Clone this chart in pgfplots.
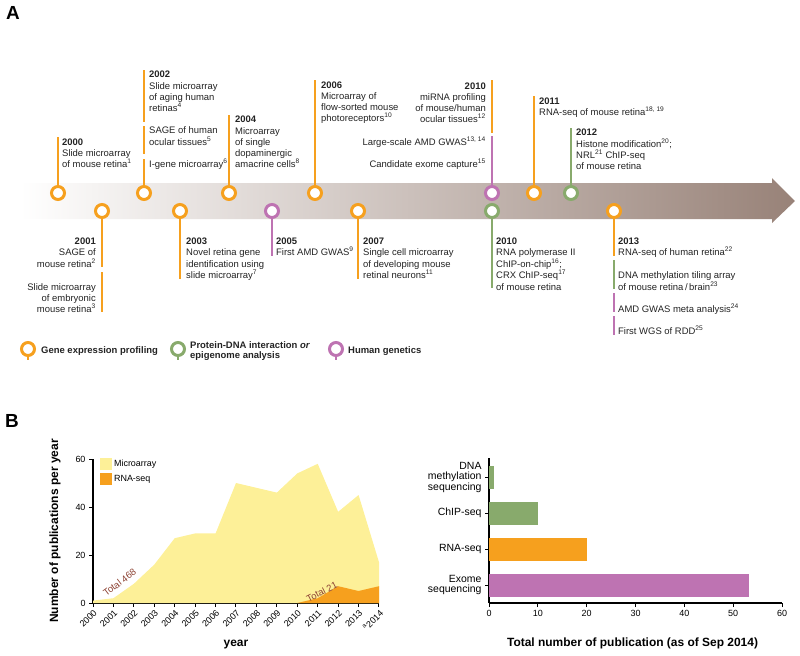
\documentclass[border=0pt]{standalone}
\usepackage{fontspec}
\setmainfont{Liberation Sans}
\usepackage{pgfplots}
\pgfplotsset{compat=1.18}
\definecolor{gorange}{RGB}{246,160,30}
\definecolor{ggreen}{RGB}{136,170,108}
\definecolor{gpurple}{RGB}{190,115,178}
\definecolor{gyellow}{RGB}{253,240,152}
\definecolor{arrowbrown}{RGB}{152,130,120}
\definecolor{totcol}{RGB}{140,65,50}
\definecolor{txt}{RGB}{35,35,35}
\newcommand{\tf}{\fontsize{9.5}{11}\selectfont}
\newcommand{\T}[3]{\node[anchor=base west,inner sep=0pt,font=\tf,text=txt] at (axis cs:#1,#2) {#3};}
\newcommand{\R}[3]{\node[anchor=base east,inner sep=0pt,font=\tf,text=txt] at (axis cs:#1,#2) {#3};}
\newcommand{\sx}[1]{\textsuperscript{#1}}
\begin{document}
\begin{tikzpicture}
\useasboundingbox (0,0) rectangle (800bp,-656bp);
% ---------------- Panel A (pixel coordinates) ----------------
\begin{axis}[at={(0,0)}, anchor=north west, scale only axis, width=800bp, height=656bp,
  xmin=0, xmax=800, ymin=0, ymax=656, y dir=reverse, hide axis, clip=false]
\shade[left color=white, right color=arrowbrown] (axis cs:20,183) -- (axis cs:772,183) -- (axis cs:772,178) -- (axis cs:795,201) -- (axis cs:772,223) -- (axis cs:772,219) -- (axis cs:20,219) -- cycle;
% stems
\pgfplotsset{stem/.style={line width=2.4bp}}
\addplot[stem, gorange] coordinates {(58,137)(58,186)};
\addplot[stem, gorange] coordinates {(144,70)(144,122)};
\addplot[stem, gorange] coordinates {(144,126)(144,154)};
\addplot[stem, gorange] coordinates {(144,159)(144,186)};
\addplot[stem, gorange] coordinates {(229,115)(229,186)};
\addplot[stem, gorange] coordinates {(315,80)(315,186)};
\addplot[stem, gorange] coordinates {(492,80)(492,133)};
\addplot[stem, gpurple] coordinates {(492,136)(492,186)};
\addplot[stem, gorange] coordinates {(534,96)(534,186)};
\addplot[stem, ggreen] coordinates {(571,128)(571,186)};
\addplot[stem, gorange] coordinates {(102,218)(102,267)};
\addplot[stem, gorange] coordinates {(102,272)(102,312)};
\addplot[stem, gorange] coordinates {(180,218)(180,279)};
\addplot[stem, gpurple] coordinates {(272,218)(272,256)};
\addplot[stem, gorange] coordinates {(358,218)(358,279)};
\addplot[stem, ggreen] coordinates {(492,218)(492,288)};
\addplot[stem, gorange] coordinates {(614,218)(614,256)};
\addplot[stem, ggreen] coordinates {(614,260)(614,289)};
\addplot[stem, gpurple] coordinates {(614,293)(614,312)};
\addplot[stem, gpurple] coordinates {(614,316)(614,335)};
\addplot[stem, gorange] coordinates {(28,349)(28,360)};
\addplot[stem, ggreen] coordinates {(178,349)(178,360)};
\addplot[stem, gpurple] coordinates {(336,349)(336,360)};
% circles
\addplot[only marks, mark=*, mark size=6.5bp, mark options={draw=gorange, fill=white, line width=3bp}]
  coordinates {(58,193)(144,193)(229,193)(315,193)(534,193)(102,211)(180,211)(358,211)(614,211)(28,349)};
\addplot[only marks, mark=*, mark size=6.5bp, mark options={draw=ggreen, fill=white, line width=3bp}]
  coordinates {(571,193)(492,211)(178,349)};
\addplot[only marks, mark=*, mark size=6.5bp, mark options={draw=gpurple, fill=white, line width=3bp}]
  coordinates {(492,193)(272,211)(336,349)};
% texts above
\T{62}{145.5}{\textbf{2000}}
\T{62}{156.5}{Slide microarray}
\T{62}{167.5}{of mouse retina\sx{1}}
\T{149}{77.5}{\textbf{2002}}
\T{149}{89.5}{Slide microarray}
\T{149}{100.5}{of aging human}
\T{149}{111.5}{retinas\sx{4}}
\T{149}{133.5}{SAGE of human}
\T{149}{145.5}{ocular tissues\sx{5}}
\T{149}{167.5}{I-gene microarray\sx{6}}
\T{235}{122.5}{\textbf{2004}}
\T{235}{134.5}{Microarray}
\T{235}{145.5}{of single}
\T{235}{156.5}{dopaminergic}
\T{235}{167.5}{amacrine cells\sx{8}}
\T{321}{88.5}{\textbf{2006}}
\T{321}{99.5}{Microarray of}
\T{321}{110.5}{flow-sorted mouse}
\T{321}{121.5}{photoreceptors\sx{10}}
\R{486}{89.5}{\textbf{2010}}
\R{486}{100.5}{miRNA profiling}
\R{486}{111.5}{of mouse/human}
\R{486}{122.5}{ocular tissues\sx{12}}
\R{486}{145.5}{Large-scale AMD GWAS\sx{13, 14}}
\R{486}{167.5}{Candidate exome capture\sx{15}}
\T{539}{104.5}{\textbf{2011}}
\T{539}{115.5}{RNA-seq of mouse retina\sx{18, 19}}
\T{576}{135.5}{\textbf{2012}}
\T{576}{147.5}{Histone modification\sx{20};}
\T{576}{158.5}{NRL\sx{21} ChIP-seq}
\T{576}{169.5}{of mouse retina}
% texts below
\R{96}{244.5}{\textbf{2001}}
\R{96}{255.5}{SAGE of}
\R{96}{267.5}{mouse retina\sx{2}}
\R{96}{290.5}{Slide microarray}
\R{96}{301.5}{of embryonic}
\R{96}{312.5}{mouse retina\sx{3}}
\T{186}{244.5}{\textbf{2003}}
\T{186}{255.5}{Novel retina gene}
\T{186}{267.5}{identification using}
\T{186}{278.5}{slide microarray\sx{7}}
\T{276}{244.5}{\textbf{2005}}
\T{276}{255.5}{First AMD GWAS\sx{9}}
\T{363}{244.5}{\textbf{2007}}
\T{363}{255.5}{Single cell microarray}
\T{363}{267.5}{of developing mouse}
\T{363}{278.5}{retinal neurons\sx{11}}
\T{496}{244.5}{\textbf{2010}}
\T{496}{255.5}{RNA polymerase II}
\T{496}{267.5}{ChIP-on-chip\sx{16};}
\T{496}{278.5}{CRX ChIP-seq\sx{17}}
\T{496}{290.5}{of mouse retina}
\T{618}{244.5}{\textbf{2013}}
\T{618}{255.5}{RNA-seq of human retina\sx{22}}
\T{618}{278.5}{DNA methylation tiling array}
\T{618}{290.5}{of mouse retina\,/\,brain\sx{23}}
\T{618}{312.5}{AMD GWAS meta analysis\sx{24}}
\T{618}{334.5}{First WGS of RDD\sx{25}}
% legend
\T{41}{353.5}{\textbf{Gene expression profiling}}
\T{190}{348.5}{\textbf{Protein-DNA interaction \textit{or}}}
\T{190}{358.5}{\textbf{epigenome analysis}}
\T{348}{353.5}{\textbf{Human genetics}}
% panel letters
\node[font=\fontsize{19}{20}\selectfont\bfseries] at (axis cs:13,13) {A};
\node[font=\fontsize{19}{20}\selectfont\bfseries] at (axis cs:12,421) {B};
\end{axis}
% ---------------- Panel B left ----------------
\begin{axis}[at={(93bp,-603bp)}, anchor=south west, scale only axis, width=286bp, height=144bp,
  xmin=2000, xmax=2014, ymin=0, ymax=60, axis lines*=left, clip=false,
  axis line style={line width=1.1bp}, tick style={line width=1bp, black}, tick align=outside, major tick length=4bp,
  /pgf/number format/assume math mode=true,
  ytick={0,20,40,60}, yticklabel style={font=\fontsize{9}{10}\selectfont},
  xtick={2000,...,2014},
  xticklabels={2000,2001,2002,2003,2004,2005,2006,2007,2008,2009,2010,2011,2012,2013,\textsuperscript{a}2014},
  xticklabel style={rotate=45, anchor=north east, font=\fontsize{9}{10}\selectfont, inner sep=1.5pt},
  xlabel={year}, xlabel style={font=\fontsize{12}{13}\selectfont\bfseries, at={(axis description cs:0.5,-0.29)}, anchor=center},
  ylabel={Number of publications per year}, ylabel style={font=\fontsize{12}{13}\selectfont\bfseries, at={(axis description cs:-0.133,0.5)}, anchor=center},
  legend style={at={(axis description cs:0.024,1.01)}, anchor=north west, draw=none, fill=none, font=\fontsize{9}{10}\selectfont, row sep=3pt, inner sep=0pt},
  legend cell align=left,
  legend image code/.code={\fill[#1] (0bp,-6bp) rectangle (12bp,6bp);}]
\addplot[fill=gyellow, draw=none] coordinates {(2000,1)(2001,2)(2002,8)(2003,16)(2004,27)(2005,29)(2006,29)(2007,50)(2008,48)(2009,46)(2010,54)(2011,58)(2012,38)(2013,45)(2014,17)} \closedcycle;
\addlegendentry{Microarray}
\addplot[fill=gorange, draw=none] coordinates {(2010,0)(2011,2)(2012,7)(2013,5)(2014,7)} \closedcycle;
\addlegendentry{RNA-seq}
\node[rotate=37, font=\fontsize{9.5}{10}\selectfont, text=totcol] at (axis cs:2001.3,8.6) {Total 468};
\node[rotate=27, font=\fontsize{9.5}{10}\selectfont, text=totcol] at (axis cs:2011.2,4.6) {Total 21};
\end{axis}
% ---------------- Panel B right ----------------
\begin{axis}[at={(489bp,-603bp)}, anchor=south west, scale only axis, width=293bp, height=145bp,
  xmin=0, xmax=60, ymin=-0.5, ymax=3.53, axis lines*=left,
  axis line style={line width=1.1bp}, tick style={line width=1bp, black}, tick align=outside, major tick length=4bp,
  /pgf/number format/assume math mode=true,
  xtick={0,10,...,60}, xticklabel style={font=\fontsize{9}{10}\selectfont},
  ytick={0,1,2,3},
  yticklabels={Exome\\sequencing, RNA-seq, ChIP-seq, DNA\\methylation\\sequencing},
  yticklabel style={align=right, font=\fontsize{10.5}{10.5}\selectfont},
  xlabel={Total number of publication (as of Sep 2014)},
  xlabel style={font=\fontsize{12}{13}\selectfont\bfseries, at={(axis description cs:0.49,-0.276)}, anchor=center},
  xbar, bar width=23bp, bar shift=0pt]
\addplot[fill=gpurple, draw=none] coordinates {(53.2,0)};
\addplot[fill=gorange, draw=none] coordinates {(20,1)};
\addplot[fill=ggreen, draw=none] coordinates {(10,2)};
\addplot[fill=ggreen, draw=none] coordinates {(1,3)};
\end{axis}
\end{tikzpicture}
\end{document}
